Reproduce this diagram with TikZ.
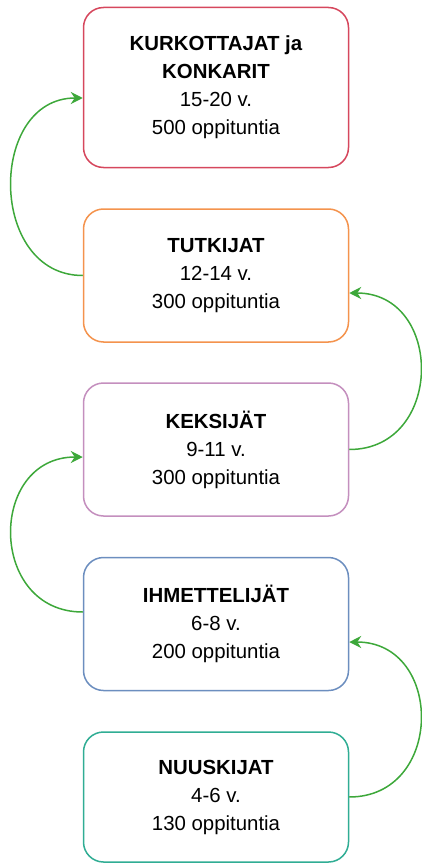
\documentclass[tikz,border=0pt]{standalone}
\usepackage{fontspec}
\setmainfont{Liberation Sans}
\usepackage{xcolor}
\usetikzlibrary{positioning,calc,arrows.meta}

\definecolor{kred}{HTML}{D6475D}
\definecolor{korange}{HTML}{F4934D}
\definecolor{kpurple}{HTML}{C48FBE}
\definecolor{kblue}{HTML}{6C8EBF}
\definecolor{kteal}{HTML}{30AD94}
\definecolor{kgreen}{HTML}{3DA83A}

\tikzset{
    stage/.style={draw, line width=1.5pt, rounded corners=20pt, fill=white,
        minimum width=265pt, minimum height=133pt, align=center,
        font=\fontsize{20.4}{28}\selectfont},
    jump/.style={kgreen, line width=1.5pt, -{Stealth[length=12pt, width=12pt, inset=4pt]}}
}

\begin{document}
\begin{tikzpicture}[x=1pt, y=1pt]
    \useasboundingbox (0,0) rectangle (422,-864);

    \node [stage, draw=kred, minimum height=160pt] (Kurkottajat) at (216,-87.5)
        {\textbf{KURKOTTAJAT ja}\\\textbf{KONKARIT}\\15-20 v.\\500 oppituntia};
    \node [stage, draw=korange] (Tutkijat) at (216,-275.5)
        {\textbf{TUTKIJAT}\\12-14 v.\\300 oppituntia};
    \node [stage, draw=kpurple] (Keksijat) at (216,-449.5)
        {\textbf{KEKSIJÄT}\\9-11 v.\\300 oppituntia};
    \node [stage, draw=kblue] (Ihmettelijat) at (216,-624)
        {\textbf{IHMETTELIJÄT}\\6-8 v.\\200 oppituntia};
    \node [stage, draw=kteal, minimum height=130pt] (Nuuskijat) at (216,-797)
        {\textbf{NUUSKIJAT}\\4-6 v.\\130 oppituntia};

    % entry points of the curved arrows
    \coordinate (InK) at ($(Kurkottajat.west)+(0,-10.5)$);
    \coordinate (InT) at ($(Tutkijat.east)+(0,-17.5)$);
    \coordinate (InE) at ($(Keksijat.west)+(0,-7.5)$);
    \coordinate (InI) at ($(Ihmettelijat.east)+(0,-18)$);
    \coordinate (OutI) at ($(Ihmettelijat.west)+(0,12)$);

    \draw [jump] (Tutkijat.west) .. controls +(-95,0) and +(-95,0) .. (InK);
    \draw [jump] (Keksijat.east) .. controls +(95,0) and +(95,0) .. (InT);
    \draw [jump] (OutI) .. controls +(-95,0) and +(-95,0) .. (InE);
    \draw [jump] (Nuuskijat.east) .. controls +(95,0) and +(95,0) .. (InI);
\end{tikzpicture}
\end{document}
